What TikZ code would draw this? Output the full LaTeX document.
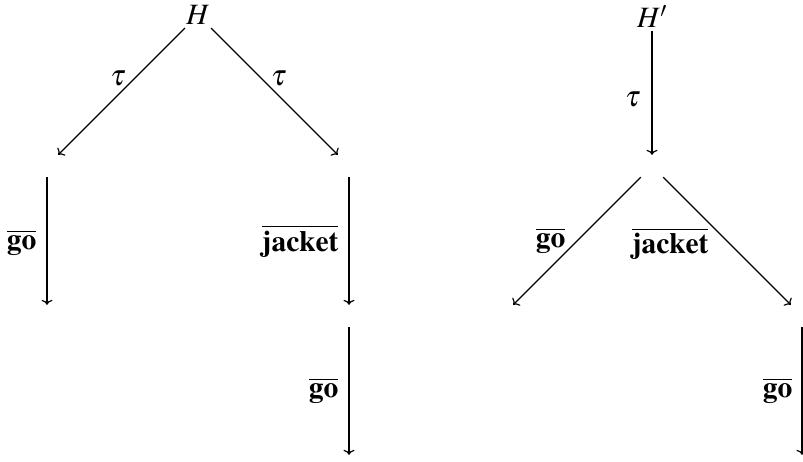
\documentclass[tikz,border=0pt]{standalone}
\usepackage{mathptmx}
\usepackage{fontspec}
\setmainfont{Liberation Serif}
\usetikzlibrary{arrows.meta}
\newcommand\actlbl[1]{\overline{\mbox{\usefont{OT1}{ptm}{b}{n}#1}}}
\begin{document}
\begin{tikzpicture}[x=1pt,y=-1pt,
  every node/.style={font=\fontsize{29.5}{35}\selectfont},
  st/.style={rectangle, minimum size=22pt, inner sep=0pt},
  tr/.style={-{Computer Modern Rightarrow[length=5pt,width=11pt]}, line width=1.2pt},
  lab/.style={inner sep=2pt}]
\useasboundingbox (0,0) rectangle (803,461);
% left transition system
\node (H) at (198,15) {$H$};
\node[st] (a) at (47,166) {};
\node[st] (b) at (47,316) {};
\node[st] (r1) at (349,166) {};
\node[st] (r2) at (349,316) {};
\node[st] (r3) at (349,466) {};
\draw[tr] (H) -- node[lab, pos=0.43, above left, xshift=-2pt, yshift=-6pt] {$\tau$} (a);
\draw[tr] (H) -- node[lab, pos=0.43, above right, xshift=3pt, yshift=-6pt] {$\tau$} (r1);
\draw[tr] (a) -- node[lab, midway, left=8pt, yshift=-2pt] {$\actlbl{go}$} (b);
\draw[tr] (r1) -- node[lab, midway, left=8pt] {$\actlbl{jacket}$} (r2);
\draw[tr] (r2) -- node[lab, midway, left=8pt] {$\actlbl{go}$} (r3);
% right transition system
\node (Hp) at (652,16.5) {$H'$};
\node[st] (c) at (652,166) {};
\node[st] (d) at (502,316) {};
\node[st] (e) at (802,316) {};
\node[st] (f) at (802,466) {};
\draw[tr] (Hp) -- node[lab, midway, left=9pt, yshift=-6pt] {$\tau$} (c);
\draw[tr] (c) -- node[lab, midway, left=9pt] {$\actlbl{go}$} (d);
\draw[tr] (c) -- node[lab, pos=0.375, below left] {$\actlbl{jacket}$} (e);
\draw[tr] (e) -- node[lab, midway, left=7pt] {$\actlbl{go}$} (f);
\end{tikzpicture}
\end{document}
